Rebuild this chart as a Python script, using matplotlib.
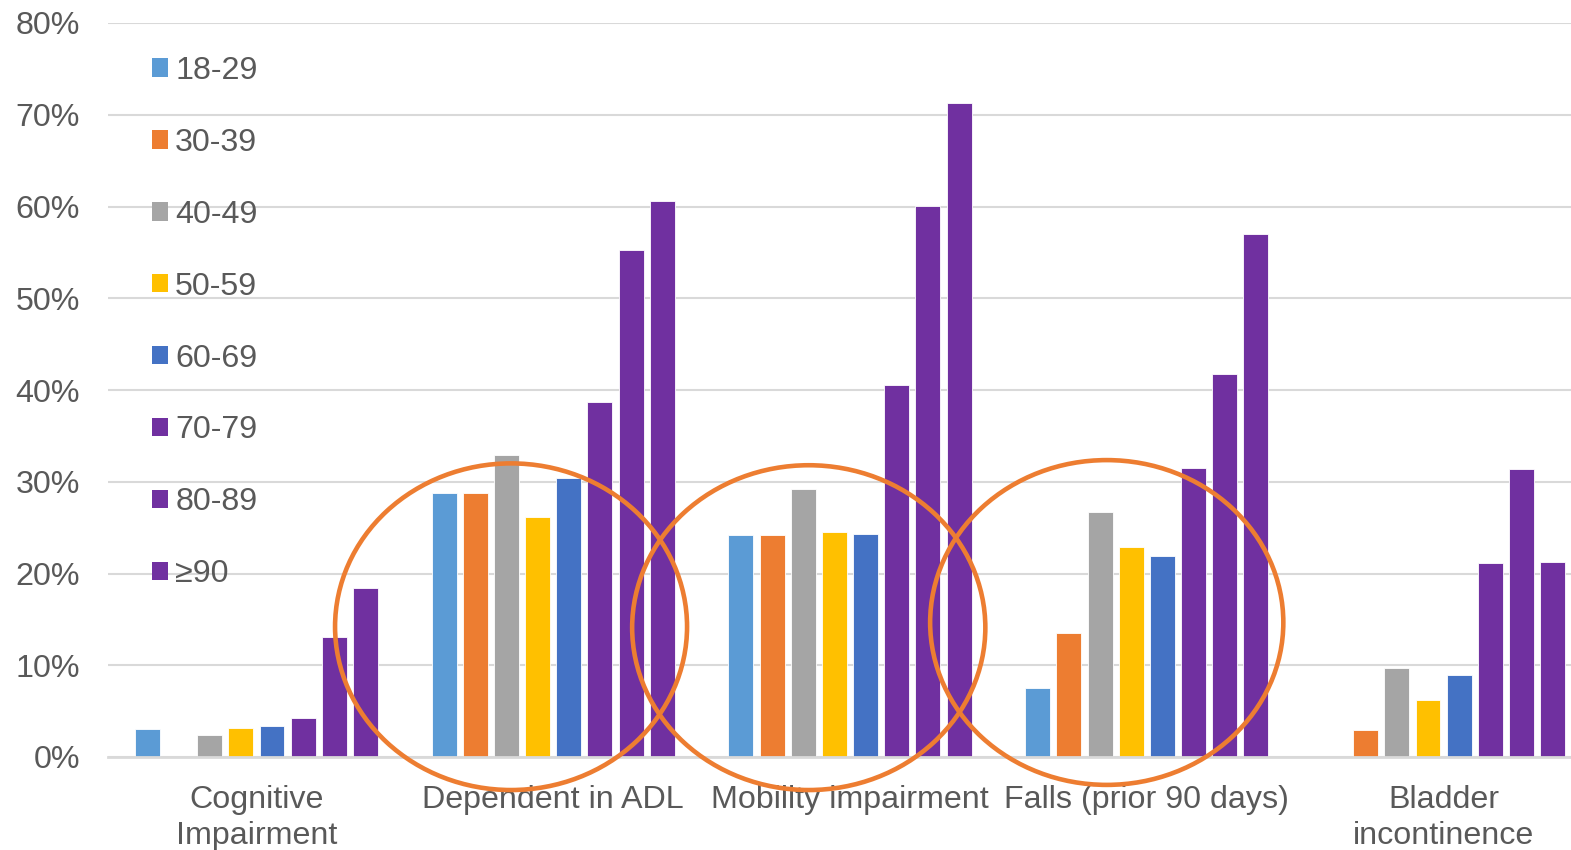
import matplotlib.pyplot as plt
from matplotlib.patches import Ellipse, Patch
import numpy as np

plt.rcParams['font.family'] = ['Liberation Sans', 'DejaVu Sans']

categories = ["Cognitive\nImpairment", "Dependent in ADL", "Mobility impairment",
              "Falls (prior 90 days)", "Bladder\nincontinence"]
age_groups = ["18-29", "30-39", "40-49", "50-59", "60-69", "70-79", "80-89", "\u226590"]
colors = ["#5B9BD5", "#ED7D31", "#A5A5A5", "#FFC000", "#4472C4", "#7030A0", "#7030A0", "#7030A0"]

# percent of residents per age group, one list per condition
cognitive = [3.0, 0.0, 2.4, 3.2, 3.4, 4.3, 13.1, 18.4]
adl = [28.8, 28.8, 32.9, 26.2, 30.4, 38.7, 55.3, 60.6]
mobility = [24.2, 24.2, 29.2, 24.5, 24.3, 40.5, 60.1, 71.3]
falls = [7.5, 13.5, 26.7, 22.9, 21.9, 31.5, 41.7, 57.0]
bladder = [0.0, 2.9, 9.7, 6.2, 8.9, 21.1, 31.4, 21.3]

values = np.array([cognitive, adl, mobility, falls, bladder])

# highlighted groups: (center x, center y, width, height) in data units
circles = [(0.858, 14.2, 1.186, 35.6),
           (1.861, 14.1, 1.19, 35.4),
           (2.865, 14.66, 1.19, 35.4)]

text_color = "#595959"
grid_color = "#D9D9D9"
fs = 23.2

fig = plt.figure(figsize=(15.71, 8.5), dpi=100)
ax = fig.add_axes([108 / 1571, 1 - 757 / 850, 1484 / 1571, (757 - 23) / 850])

x = np.arange(len(categories))
slot = 0.105
width = 0.084
for i, grp in enumerate(age_groups):
    offs = (i - 3.5) * slot
    ax.bar(x + offs, values[:, i], width=width, color=colors[i],
           edgecolor="white", linewidth=0.6, zorder=3)

for cx, cy, w, h in circles:
    ax.add_patch(Ellipse((cx, cy), w, h, fill=False, edgecolor="#ED7D31",
                         linewidth=3.3, zorder=4, clip_on=False))

ax.set_xlim(-0.5, 4.5)
ax.set_ylim(0, 80)
ax.set_yticks(np.arange(0, 81, 10))
ax.set_yticklabels([f"{v}%" for v in range(0, 81, 10)])
ax.set_xticks(x)
ax.set_xticklabels(categories, linespacing=1.25)
ax.tick_params(axis="y", length=0, pad=20, labelsize=fs, labelcolor=text_color)
ax.tick_params(axis="x", length=0, pad=20.5, labelsize=fs, labelcolor=text_color)

ax.grid(axis="y", color=grid_color, linewidth=1.5, zorder=0)
for side in ["top", "right", "left"]:
    ax.spines[side].set_visible(False)
ax.spines["bottom"].set_color(grid_color)
ax.spines["bottom"].set_linewidth(2)
ax.spines["bottom"].set_zorder(3)

handles = [Patch(facecolor=c, edgecolor="none") for c in colors]
leg = fig.legend(handles, age_groups, loc="upper left",
                 bbox_to_anchor=(152 / 1571, 1 - 56 / 850), frameon=False,
                 fontsize=fs, handlelength=0.5, handleheight=0.5,
                 handletextpad=0.22, labelspacing=1.3, borderpad=0,
                 borderaxespad=0)
for t in leg.get_texts():
    t.set_color(text_color)

fig.savefig("out.png", dpi=100)
